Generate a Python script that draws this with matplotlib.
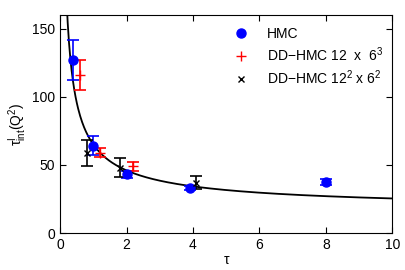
import numpy as np
import matplotlib
matplotlib.use('Agg')
import matplotlib.pyplot as plt
from matplotlib.lines import Line2D

plt.rcParams['font.family'] = ['Liberation Sans', 'DejaVu Sans']
plt.rcParams['mathtext.fontset'] = 'custom'
plt.rcParams['mathtext.rm'] = 'Liberation Sans'
plt.rcParams['mathtext.it'] = 'Liberation Sans'

# HMC
hmc_tau = [0.4, 1.0, 2.0, 3.9, 8.0]
hmc_val = [127, 64, 43, 33, 37.5]
hmc_err = [15, 7, 2.5, 1.5, 2.5]

# DD-HMC 12 x 6^3
dd1_tau = [0.6, 1.2, 2.2]
dd1_val = [116, 59, 49]
dd1_err = [11, 3.5, 3.5]

# DD-HMC 12^2 x 6^2
dd2_tau = [0.8, 1.8, 4.1]
dd2_val = [59, 48, 37]
dd2_err = [9.5, 7, 4.5]

# fit  a + b/tau^c
fit_a = 15.5
fit_b = 49.5
fit_c = 0.7

fig = plt.figure(figsize=(4.06, 2.70), dpi=100)
ax = fig.add_axes([0.148, 0.137, 0.818, 0.807])

t = np.linspace(0.15, 10, 500)
ax.plot(t, fit_a + fit_b / t**fit_c, 'k-', lw=1.3)

ax.errorbar(hmc_tau, hmc_val, yerr=hmc_err, fmt='o', color='blue', ms=6.5,
            capsize=4, elinewidth=1.2, capthick=1.2)
ax.errorbar(dd1_tau, dd1_val, yerr=dd1_err, fmt='+', color='red', ms=7,
            capsize=4, elinewidth=1.2, capthick=1.2)
ax.errorbar(dd2_tau, dd2_val, yerr=dd2_err, fmt='x', color='black', ms=5,
            capsize=4, elinewidth=1.2, capthick=1.2)

ax.set_xlim(0, 10)
ax.set_ylim(0, 160)
ax.set_xticks([0, 2, 4, 6, 8, 10])
ax.set_yticks([0, 50, 100, 150])
ax.tick_params(direction='in', top=True, right=True, labelsize=10, length=4)
ax.set_xlabel('τ', fontsize=10, labelpad=1)
ax.set_ylabel(r'τ$^{I}_{\rm int}$(Q$^2$)', fontsize=10, labelpad=2)

handles = [
    Line2D([], [], ls='none', marker='o', color='blue', ms=6.5),
    Line2D([], [], ls='none', marker='+', color='red', ms=7),
    Line2D([], [], ls='none', marker='x', color='black', ms=5),
]
labels = ['HMC', r'DD$-$HMC 12  x  6$^3$', r'DD$-$HMC 12$^2$ x 6$^2$']
ax.legend(handles, labels, loc='upper right', frameon=False, fontsize=10,
          handletextpad=0.9, borderaxespad=0.0, labelspacing=0.3,
          bbox_to_anchor=(0.99, 0.97))

plt.savefig('out.png', dpi=100)
